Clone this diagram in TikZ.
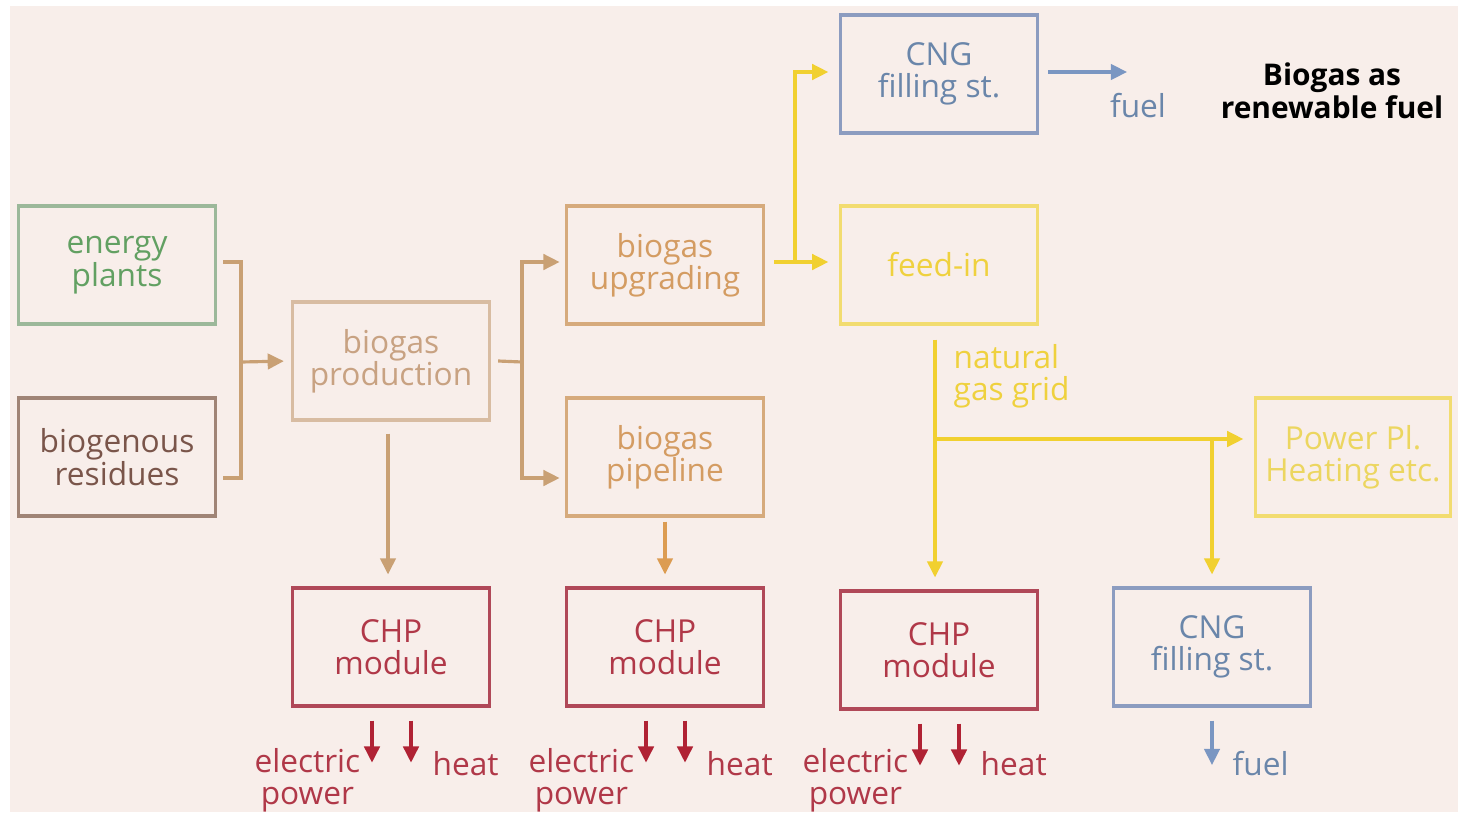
\documentclass[tikz,border=0pt]{standalone}
\usepackage{fontspec}
\setmainfont{Open Sans}
\usetikzlibrary{arrows.meta}
\definecolor{bg}{HTML}{F8EEEA}
\definecolor{greenB}{HTML}{9CB89A}
\definecolor{greenT}{HTML}{62A062}
\definecolor{resB}{HTML}{A08476}
\definecolor{resT}{HTML}{7A554A}
\definecolor{prodB}{HTML}{D8BCA2}
\definecolor{prodT}{HTML}{C8A282}
\definecolor{upB}{HTML}{D6AA7C}
\definecolor{upT}{HTML}{D49C62}
\definecolor{tanL}{HTML}{C9A074}
\definecolor{orL}{HTML}{DC9C52}
\definecolor{yelL}{HTML}{F1D030}
\definecolor{yelB}{HTML}{F2DC70}
\definecolor{yelT}{HTML}{EFD13E}
\definecolor{yelT2}{HTML}{ECD660}
\definecolor{blueB}{HTML}{8C9CC0}
\definecolor{blueT}{HTML}{6A86AA}
\definecolor{blueL}{HTML}{7A96C2}
\definecolor{chpB}{HTML}{B04858}
\definecolor{chpT}{HTML}{B03848}
\definecolor{redL}{HTML}{B02234}
\begin{document}
\begin{tikzpicture}[x=0.01cm,y=-0.01cm,
  font=\fontsize{9}{9.2}\selectfont,
  box/.style={draw, line width=0.9pt, minimum width=1.97cm, minimum height=1.18cm, align=center, inner sep=0pt},
  tip/.style={-{Triangle[length=4.6pt,width=4.4pt]}},
  conn/.style={line width=0.9pt},
  lbl/.style={inner sep=0pt, align=center}]
\useasboundingbox (0,0) rectangle (1458,812);
\fill[bg] (10,6) rectangle (1458,812);

% boxes
\node[box, draw=greenB, text=greenT] (ep) at (117,265) {energy\\plants};
\node[box, draw=resB, text=resT] (br) at (117,457) {biogenous\\residues};
\node[box, draw=prodB, text=prodT] (bp) at (391,361) {biogas\\production};
\node[box, draw=upB, text=upT] (bu) at (665,265) {biogas\\upgrading};
\node[box, draw=upB, text=upT] (bpl) at (665,457) {biogas\\pipeline};
\node[box, draw=blueB, text=blueT] (cng1) at (939,74) {CNG\\filling st.};
\node[box, draw=yelB, text=yelT] (fi) at (939,265) {feed-in};
\node[box, draw=yelB, text=yelT2, minimum width=1.95cm] (pp) at (1353,457) {Power Pl.\\Heating etc.};
\node[box, draw=chpB, text=chpT] (chp1) at (391,647) {CHP\\module};
\node[box, draw=chpB, text=chpT] (chp2) at (665,647) {CHP\\module};
\node[box, draw=chpB, text=chpT] (chp3) at (939,650) {CHP\\module};
\node[box, draw=blueB, text=blueT] (cng2) at (1212,647) {CNG\\filling st.};

% title
\node[lbl, font=\fontsize{8.5}{8}\selectfont\bfseries, text=black] (title) at (1332,91) {Biogas as\\renewable fuel};

% tan connectors
\coordinate (j1) at (241,362);
\draw[conn, tanL] ([shift={(6,-3)}]ep.east) -| (j1) |- ([shift={(6,21)}]br.east);
\draw[conn, tanL, tip, shorten >=2pt] (j1) -- (bp.west);
\coordinate (j2) at (522,362);
\draw[conn, tanL] ([xshift=0.07cm]bp.east) -- (j2);
\draw[conn, tanL, tip, shorten >=1.5pt] (j2) |- ([shift={(0,-3)}]bu.west);
\draw[conn, tanL, tip, shorten >=1.5pt] (j2) |- ([shift={(0,21)}]bpl.west);
\draw[conn, tanL, tip, shorten >=3.4pt] ([shift={(-3,12)}]bp.south) -- ([shift={(-3,0)}]chp1.north);
\draw[conn, orL, tip, shorten >=3.4pt] ([yshift=-0.04cm]bpl.south) -- (chp2.north);

% yellow connectors
\coordinate (j3) at (795,262);
\draw[conn, yelL, tip, shorten >=3pt] ([shift={(9,-3)}]bu.east) -- ([shift={(0,-3)}]fi.west);
\draw[conn, yelL, tip, shorten >=3pt] (j3) |- ([shift={(0,-2)}]cng1.west);
\coordinate (j4) at (935,439);
\draw[conn, yelL, tip, shorten >=3.4pt] ([shift={(-4,14)}]fi.south) -- ([shift={(-4,0)}]chp3.north);
\draw[conn, yelL, tip, shorten >=3pt] (j4) -- (j4 -| pp.west);
\coordinate (j5) at (1212,439);
\draw[conn, yelL, tip, shorten >=3.4pt] (j5) -- (cng2.north);
\node[lbl, align=left, anchor=west, text=yelT] (ngg) at (953,376) {natural\\gas grid};

% blue connectors
\coordinate (f1) at (1127,72);
\draw[conn, blueL, tip] ([shift={(9,-2)}]cng1.east) -- (f1);
\node[lbl, text=blueT] (fuel1) at (1138,106) {fuel};
\coordinate (f2) at (1212,765);
\draw[conn, blueL, tip] ([yshift=-0.13cm]cng2.south) -- (f2);
\node[lbl, anchor=base west, text=blueT] (fuel2) at (1232,775) {fuel};

% CHP outputs
\foreach \c/\n/\d in {chp1/a/97, chp2/b/97, chp3/c/94}{
  \draw[conn, redL, tip] ([shift={(-19,13)}]\c.south) -- ([shift={(-19,55)}]\c.south);
  \draw[conn, redL, tip] ([shift={(20,13)}]\c.south) -- ([shift={(20,55)}]\c.south);
  \node[lbl, anchor=base east, text=chpT] (el\n) at ([shift={(-30,\d)}]\c.south) {electric\\power};
  \node[lbl, anchor=base west, text=chpT] (ht\n) at ([shift={(41,\d-29)}]\c.south) {heat};
}
\end{tikzpicture}
\end{document}
